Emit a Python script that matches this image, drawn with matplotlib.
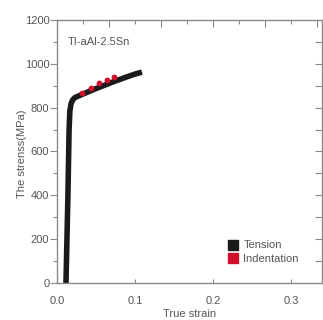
import numpy as np
import matplotlib.pyplot as plt
from matplotlib.ticker import MultipleLocator
from matplotlib.lines import Line2D

plt.rcParams['font.family'] = ['Liberation Sans', 'DejaVu Sans']

# tension curve (true strain, stress MPa)
tension_strain = [0.0115, 0.0140, 0.0155, 0.0165, 0.0180, 0.0200, 0.0230, 0.030,
                  0.040, 0.050, 0.060, 0.070, 0.080, 0.090, 0.100, 0.109]
tension_stress = [0, 400, 700, 785, 818, 835, 846, 857,
                  872, 887, 901, 915, 928, 941, 953, 962]

# indentation points
indent_strain = [0.0324, 0.0432, 0.0538, 0.0637, 0.0735]
indent_stress = [866, 891, 911, 926, 939]

material = 'TI-aAl-2.5Sn'
grey = '#555555'
spine_grey = '#8a8a8a'
black = '#1a1a1a'
red = '#d0102a'

fig = plt.figure(figsize=(3.23, 3.20), dpi=100)
ax = fig.add_axes([0.1765, 0.1156, 0.8205, 0.822])

ax.plot(tension_strain, tension_stress, color=black, lw=4.0, solid_capstyle='butt')
ax.plot(indent_strain, indent_stress, 'o', color=red, ms=4.2, mec='none')

ax.set_xlim(0, 0.34)
ax.set_ylim(0, 1200)
ax.set_xticks([0.0, 0.1, 0.2, 0.3])
ax.set_xticklabels(['0.0', '0.1', '0.2', '0.3'])
ax.set_yticks(np.arange(0, 1201, 200))
ax.yaxis.set_minor_locator(MultipleLocator(100))

for s in ax.spines.values():
    s.set_color(spine_grey)
    s.set_linewidth(1.0)

ax.tick_params(axis='y', which='major', direction='out', length=5, width=0.8,
               color=spine_grey, labelcolor=grey, labelsize=8, pad=0.5)
ax.tick_params(axis='y', which='minor', direction='out', length=3, width=0.8,
               color=spine_grey)
ax.tick_params(axis='x', which='major', direction='in', length=3, width=0.8,
               color=spine_grey, labelcolor=grey, labelsize=8, pad=9)

# right side ticks every 100, pointing in
axr = ax.twinx()
axr.set_ylim(0, 1200)
axr.set_yticks(np.arange(100, 1200, 100))
axr.tick_params(axis='y', direction='in', length=5, width=0.8, color=spine_grey,
                labelright=False)
for s in axr.spines.values():
    s.set_visible(False)

# top ticks
axt = ax.twiny()
axt.set_xlim(0, 0.34)
axt.set_xticks(np.arange(1, 6) / 15)
axt.set_xticks(np.arange(1, 11, 2) / 30, minor=True)
axt.tick_params(axis='x', which='major', direction='in', length=5, width=0.8,
                color=spine_grey, labeltop=False)
axt.tick_params(axis='x', which='minor', direction='in', length=3, width=0.8,
                color=spine_grey, labeltop=False)
for s in axt.spines.values():
    s.set_visible(False)

ax.set_xlabel('True strain', color=grey, fontsize=8, labelpad=2.5)
ax.set_ylabel('The strenss(MPa)', color=grey, fontsize=8)
ax.yaxis.set_label_coords(-0.113, 0.49)

ax.text(0.04, 0.915, material, transform=ax.transAxes, color=grey, fontsize=8,
        va='center', ha='left')

handles = [Line2D([], [], marker='s', ls='none', color=black, ms=6.5),
           Line2D([], [], marker='s', ls='none', color=red, ms=6.5)]
leg = ax.legend(handles, ['Tension', 'Indentation'], loc='lower right',
                bbox_to_anchor=(0.95, 0.035), frameon=False, fontsize=8,
                handletextpad=0.3, handlelength=1.2, labelspacing=0.3)
for t in leg.get_texts():
    t.set_color(grey)

fig.savefig('out.png', dpi=100)
